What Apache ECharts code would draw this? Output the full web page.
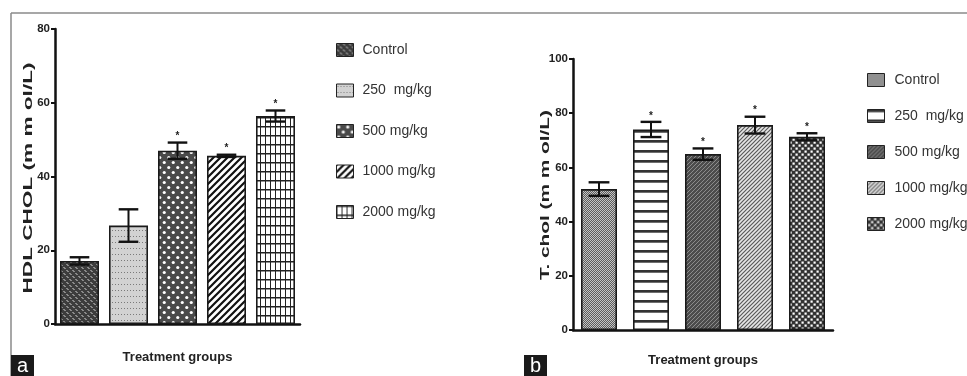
<!DOCTYPE html>
<html><head><meta charset="utf-8">
<script src="https://cdn.jsdelivr.net/npm/echarts@6/dist/echarts.min.js"></script>
<style>html,body{margin:0;padding:0;background:#fff}#c{width:967px;height:376px}</style>
</head><body><div id="c"></div>
<script>
const groups = ['Control', '250  mg/kg', '500 mg/kg', '1000 mg/kg', '2000 mg/kg'];
const hdlMean = [17.1, 26.7, 47.0, 45.6, 56.4];
const hdlErr = [1.0, 4.4, 2.2, 0.3, 1.5];
const hdlStar = [0, 0, 1, 1, 1];
const tcMean = [52.0, 74.0, 64.9, 75.6, 71.3];
const tcErr = [2.5, 2.8, 2.1, 3.1, 1.3];
const tcStar = [0, 1, 1, 1, 1];
const hdlTicks = [0, 20, 40, 60, 80];
const tcTicks = [0, 20, 40, 60, 80, 100];

const FONT = "'Liberation Sans', Arial, sans-serif";

function pat(w, h, draw) {
  const c = document.createElement('canvas'); c.width = w; c.height = h;
  const g = c.getContext('2d'); draw(g, w, h);
  return { image: c, repeat: 'repeat' };
}
const patsA = [
  pat(6, 6, (g) => { g.fillStyle = '#3c3c3c'; g.fillRect(0,0,6,6); g.fillStyle = '#8a8a8a';
    g.fillRect(0,0,2,1); g.fillRect(1,1,2,1); g.fillRect(3,3,2,1); g.fillRect(4,4,2,1); }),
  pat(3, 6, (g) => { g.fillStyle = '#d2d2d2'; g.fillRect(0,0,3,6); g.fillStyle = '#7a7a7a'; g.fillRect(1,2,1,1); }),
  pat(9, 10, (g) => { g.fillStyle = '#4a4a4a'; g.fillRect(0,0,9,10); g.fillStyle = '#fff';
    g.beginPath(); g.arc(2.25,2.5,1.6,0,7); g.fill(); g.beginPath(); g.arc(6.75,7.5,1.6,0,7); g.fill(); }),
  pat(7, 7, (g) => { g.fillStyle = '#fff'; g.fillRect(0,0,7,7); g.strokeStyle = '#111'; g.lineWidth = 2.2;
    g.beginPath(); g.moveTo(-1,8); g.lineTo(8,-1); g.moveTo(-4,4); g.lineTo(4,-4); g.moveTo(3,11); g.lineTo(11,3); g.stroke(); }),
  pat(5, 9, (g) => { g.fillStyle = '#fff'; g.fillRect(0,0,5,9); g.fillStyle = '#222';
    g.fillRect(0,0,1,9); g.fillRect(0,0,5,1.5); }),
];
const patsB = [
  pat(2, 2, (g) => { g.fillStyle = '#5c5c5c'; g.fillRect(0,0,2,2); g.fillStyle = '#c4c4c4'; g.fillRect(0,0,1,1); g.fillRect(1,1,1,1); }),
  pat(4, 10.7, (g) => { g.fillStyle = '#fff'; g.fillRect(0,0,4,11); g.fillStyle = '#333'; g.fillRect(0,0,4,2.7); }),
  pat(4, 4, (g) => { g.fillStyle = '#4c4c4c'; g.fillRect(0,0,4,4); g.fillStyle = '#8c8c8c';
    g.fillRect(0,3,1,1); g.fillRect(1,2,1,1); g.fillRect(2,1,1,1); g.fillRect(3,0,1,1); }),
  pat(4, 4, (g) => { g.fillStyle = '#e6e6e6'; g.fillRect(0,0,4,4); g.strokeStyle = '#5a5a5a'; g.lineWidth = 1.2;
    g.beginPath(); g.moveTo(-1,5); g.lineTo(5,-1); g.moveTo(-3,3); g.lineTo(3,-3); g.moveTo(1,7); g.lineTo(7,1); g.stroke(); }),
  pat(6, 6, (g) => { g.fillStyle = '#333'; g.fillRect(0,0,6,6); g.fillStyle = '#fff'; g.fillRect(0.5,0.5,2.2,2.2); g.fillRect(3.5,3.5,2.2,2.2); }),
];

function measure(text, font) {
  const c = document.createElement('canvas').getContext('2d'); c.font = font; return c.measureText(text).width;
}

function errRender(params, api) {
  const x = api.value(0), m = api.value(1), e = api.value(2), s = api.value(3);
  const top = api.coord([x, m + e]); const bot = api.coord([x, m - e]);
  const hw = api.size([1, 0])[0] * 0.2;
  const ch = [
    { type: 'line', shape: { x1: top[0], y1: top[1], x2: bot[0], y2: bot[1] }, style: { stroke: '#111', lineWidth: 2 } },
    { type: 'line', shape: { x1: top[0] - hw, y1: top[1], x2: top[0] + hw, y2: top[1] }, style: { stroke: '#111', lineWidth: 2.4 } },
    { type: 'line', shape: { x1: bot[0] - hw, y1: bot[1], x2: bot[0] + hw, y2: bot[1] }, style: { stroke: '#111', lineWidth: 2.4 } },
  ];
  if (s) ch.push({ type: 'text', style: { text: '*', x: top[0], y: top[1] - 6, align: 'center', verticalAlign: 'middle', font: 'bold 10px "Liberation Sans"', fill: '#222' } });
  return { type: 'group', children: ch };
}

function panelSeries(prefix, means, errs, stars, pats, axis, bw) {
  const out = groups.map((g, i) => ({
    name: prefix + g, type: 'bar', xAxisIndex: axis, yAxisIndex: axis,
    barWidth: bw, barGap: '-100%',
    data: means.map((v, j) => (j === i ? v : '-')),
    itemStyle: { color: pats[i], borderColor: '#1a1a1a', borderWidth: 1.6 },
    emphasis: { disabled: true }, z: 2,
  }));
  out.push({
    type: 'custom', xAxisIndex: axis, yAxisIndex: axis, z: 5, clip: false,
    renderItem: errRender, encode: { x: 0, y: 1 },
    data: means.map((m, i) => [i, m, errs[i], stars[i]]),
  });
  return out;
}

const tickLabel = { fontFamily: FONT, fontWeight: 'bold', fontSize: 11.5, color: '#222', margin: 5 };
function xAx(idx) {
  return { type: 'category', gridIndex: idx, data: groups, axisLabel: { show: false },
    axisLine: { lineStyle: { color: '#111', width: 2.5 } },
    axisTick: { alignWithLabel: true, length: 5, lineStyle: { color: '#111', width: 1.5 } },
    name: 'Treatment groups', nameLocation: 'middle', nameGap: idx === 0 ? 27 : 24,
    nameTextStyle: { fontFamily: FONT, fontWeight: 'bold', fontSize: 13, color: '#222' } };
}
function yAx(idx, ticks) {
  return { type: 'value', gridIndex: idx, min: ticks[0], max: ticks[ticks.length - 1], interval: ticks[1] - ticks[0],
    splitLine: { show: false },
    axisLine: { show: true, lineStyle: { color: '#111', width: 2.5 } },
    axisTick: { show: true, length: 4, lineStyle: { color: '#111', width: 2 } },
    axisLabel: tickLabel };
}

const yTitleFont = 'bold 13.5px "Liberation Sans"';
const tA = 'HDL CHOL (m m ol/L)', tB = 'T. chol (m m ol/L)';
const sA = 231 / measure(tA, yTitleFont), sB = 170 / measure(tB, yTitleFont);

function legend(prefix, left, top, gap, textPad) {
  return { orient: 'vertical', left: left, top: top, itemWidth: 17, itemHeight: 13, itemGap: gap,
    icon: 'rect',
    data: groups.map(g => prefix + g), formatter: n => n.slice(2), selectedMode: false,
    itemStyle: { borderColor: '#222', borderWidth: 1 },
    textStyle: { fontFamily: FONT, fontSize: 14, color: '#333', lineHeight: 14, padding: [0, 0, 0, textPad] } };
}

const chart = echarts.init(document.getElementById('c'), null, { renderer: 'canvas' });
chart.setOption({
  animation: false,
  grid: [
    { left: 55, top: 29, width: 245, height: 295 },
    { left: 573, top: 59, width: 260, height: 271 },
  ],
  xAxis: [xAx(0), xAx(1)],
  yAxis: [yAx(0, hdlTicks), yAx(1, tcTicks)],
  legend: [legend('a:', 331, 38, 26.5, 4), legend('b:', 862, 68, 22, 5)],
  series: panelSeries('a:', hdlMean, hdlErr, hdlStar, patsA, 0, 39)
    .concat(panelSeries('b:', tcMean, tcErr, tcStar, patsB, 1, 36)),
  graphic: [
    { type: 'line', shape: { x1: 11, y1: 13, x2: 967, y2: 13 }, style: { stroke: '#8a8a8a', lineWidth: 1.5 } },
    { type: 'line', shape: { x1: 11, y1: 13, x2: 11, y2: 376 }, style: { stroke: '#8a8a8a', lineWidth: 1.5 } },
    { type: 'rect', shape: { x: 11, y: 355, width: 23, height: 21 }, style: { fill: '#1a1a1a' } },
    { type: 'text', x: 22.5, y: 366, style: { text: 'a', font: '20px "Liberation Sans"', fill: '#fff', align: 'center', verticalAlign: 'middle' } },
    { type: 'rect', shape: { x: 524, y: 355, width: 23, height: 21 }, style: { fill: '#1a1a1a' } },
    { type: 'text', x: 535.5, y: 366, style: { text: 'b', font: '20px "Liberation Sans"', fill: '#fff', align: 'center', verticalAlign: 'middle' } },
    { type: 'text', x: 28, y: 178, rotation: Math.PI / 2, scaleX: sA, style: { text: tA, font: yTitleFont, fill: '#222', align: 'center', verticalAlign: 'middle' } },
    { type: 'text', x: 545, y: 195, rotation: Math.PI / 2, scaleX: sB, style: { text: tB, font: yTitleFont, fill: '#222', align: 'center', verticalAlign: 'middle' } },
  ],
});
</script></body></html>
